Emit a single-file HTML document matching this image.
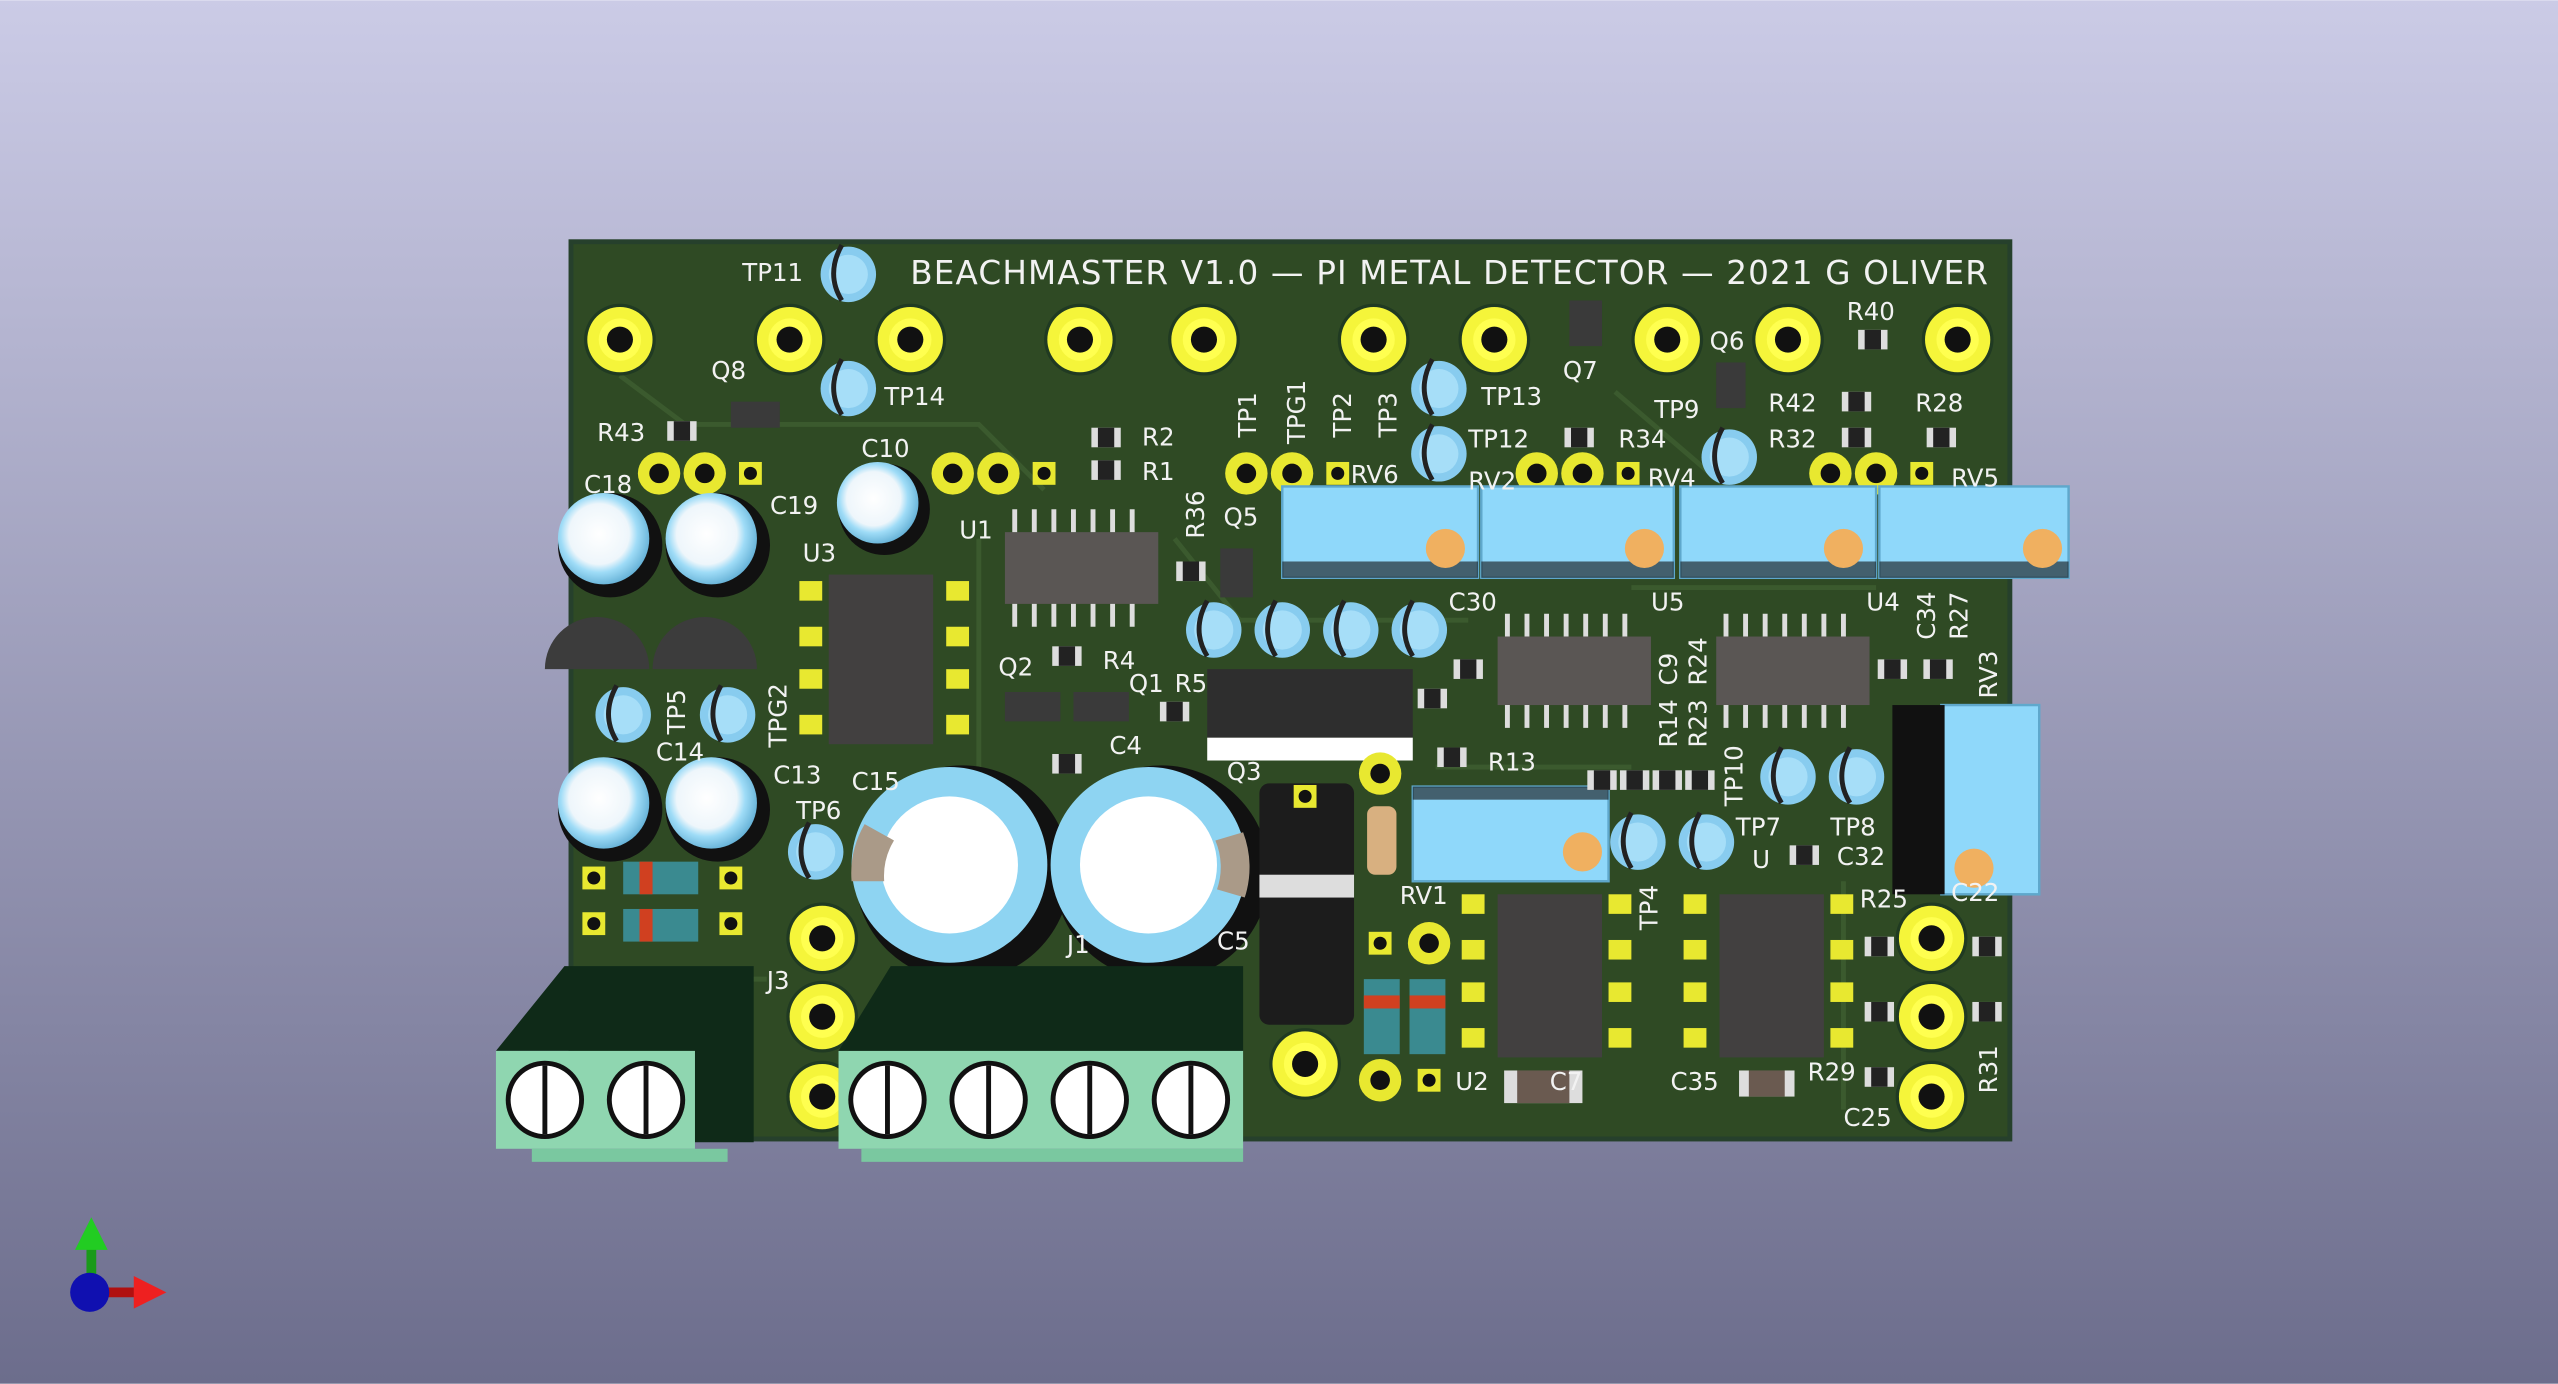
<!DOCTYPE html>
<html><head><meta charset="utf-8"><style>
html,body{margin:0;padding:0;width:2558px;height:1384px;overflow:hidden}
svg{display:block}
text{font-family:"DejaVu Sans","Liberation Sans",sans-serif;fill:#f2f2f2}
</style></head><body>
<svg width="2558" height="1384" viewBox="0 0 1568 848" xmlns="http://www.w3.org/2000/svg">
<defs>
<linearGradient id="bg" x1="0" y1="0" x2="0" y2="1"><stop offset="0" stop-color="#cbcbe6"/><stop offset="1" stop-color="#6c6d8c"/></linearGradient>
<radialGradient id="cap" cx="0.45" cy="0.45" r="0.6"><stop offset="0" stop-color="#ffffff"/><stop offset="0.55" stop-color="#eef6fb"/><stop offset="0.7" stop-color="#9fdcf7"/><stop offset="1" stop-color="#5aa9d0"/></radialGradient>
<g id="pad"><circle r="22" fill="#203a22"/><circle r="20" fill="#f5f53a"/><circle r="13" fill="#ffff50"/><circle r="8" fill="#111"/></g>
<g id="spad"><circle r="13" fill="#e8e830"/><circle r="6" fill="#111"/></g>
<g id="tp"><circle r="17" fill="#88ccef"/><circle r="12" fill="#a6def8"/><path d="M-4,-18 Q-14,0 -4,16" stroke="#222" stroke-width="3" fill="none"/></g>
<g id="res"><rect x="-9" y="-6" width="18" height="12" fill="#ddd"/><rect x="-5" y="-6" width="10" height="12" fill="#222"/></g>
<g id="smallpad"><rect x="-7" y="-7" width="14" height="14" fill="#e8e830"/><circle r="4" fill="#111"/></g>
</defs>
<rect width="1568" height="848" fill="url(#bg)"/>
<!-- board -->
<rect x="350" y="148" width="882" height="550" fill="#2f4a24" stroke="#26402c" stroke-width="3"/>
<g stroke="#3b5a2e" stroke-width="3" fill="none">
<path d="M380,230 L420,260 L600,260 L640,300"/><path d="M600,330 L600,470"/><path d="M720,330 L760,380 L900,380"/><path d="M1000,360 L1150,360"/><path d="M880,470 L1000,470"/><path d="M360,600 L470,600"/><path d="M1130,540 L1130,680"/><path d="M990,240 L1060,300"/>
</g>
<text x="558" y="174" font-size="20" letter-spacing="0.7">BEACHMASTER V1.0 — PI METAL DETECTOR — 2021 G OLIVER</text>
<!-- mounting pads -->
<use href="#pad" x="380" y="208"/><use href="#pad" x="484" y="208"/><use href="#pad" x="558" y="208"/><use href="#pad" x="662" y="208"/><use href="#pad" x="738" y="208"/><use href="#pad" x="842" y="208"/><use href="#pad" x="916" y="208"/><use href="#pad" x="1022" y="208"/><use href="#pad" x="1096" y="208"/><use href="#pad" x="1200" y="208"/>
<use href="#pad" x="504" y="575"/><use href="#pad" x="504" y="623"/><use href="#pad" x="504" y="672"/>
<use href="#pad" x="1184" y="575"/><use href="#pad" x="1184" y="623"/><use href="#pad" x="1184" y="672"/>
<use href="#pad" x="800" y="652"/>
<!-- small pads rows -->
<use href="#spad" x="404" y="290"/><use href="#spad" x="432" y="290"/><use href="#smallpad" x="460" y="290"/>
<use href="#spad" x="584" y="290"/><use href="#spad" x="612" y="290"/><use href="#smallpad" x="640" y="290"/>
<use href="#spad" x="764" y="290"/><use href="#spad" x="792" y="290"/><use href="#smallpad" x="820" y="290"/>
<use href="#spad" x="942" y="290"/><use href="#spad" x="970" y="290"/><use href="#smallpad" x="998" y="290"/>
<use href="#spad" x="1122" y="290"/><use href="#spad" x="1150" y="290"/><use href="#smallpad" x="1178" y="290"/>
<!-- test points -->
<use href="#tp" x="520" y="168"/><use href="#tp" x="520" y="238"/><use href="#tp" x="882" y="238"/><use href="#tp" x="882" y="278"/><use href="#tp" x="1060" y="280"/>
<use href="#tp" x="382" y="438"/><use href="#tp" x="446" y="438"/><use href="#tp" x="500" y="522"/>
<use href="#tp" x="744" y="386"/><use href="#tp" x="786" y="386"/><use href="#tp" x="828" y="386"/><use href="#tp" x="870" y="386"/>
<use href="#tp" x="1096" y="476"/><use href="#tp" x="1138" y="476"/><use href="#tp" x="1004" y="516"/><use href="#tp" x="1046" y="516"/>
<!-- trimmers -->
<g fill="#8fd8fa" stroke="#5fa8cc" stroke-width="1.5">
<rect x="786" y="298" width="120" height="56"/><rect x="908" y="298" width="118" height="56"/><rect x="1030" y="298" width="120" height="56"/><rect x="1152" y="298" width="116" height="56"/>
<rect x="1190" y="432" width="60" height="116"/><rect x="866" y="482" width="120" height="58"/>
</g>
<g fill="#111"><rect x="786" y="344" width="120" height="10" opacity="0.6"/><rect x="908" y="344" width="118" height="10" opacity="0.6"/><rect x="1030" y="344" width="120" height="10" opacity="0.6"/><rect x="1152" y="344" width="116" height="10" opacity="0.6"/><rect x="1160" y="432" width="32" height="116"/><rect x="866" y="482" width="120" height="8" opacity="0.6"/></g>
<g fill="#f0b060"><circle cx="886" cy="336" r="12"/><circle cx="1008" cy="336" r="12"/><circle cx="1130" cy="336" r="12"/><circle cx="1252" cy="336" r="12"/><circle cx="1210" cy="532" r="12"/><circle cx="970" cy="522" r="12"/></g>
<!-- electrolytic caps -->
<g><circle cx="374" cy="334" r="32" fill="#111"/><circle cx="370" cy="330" r="28" fill="url(#cap)"/>
<circle cx="440" cy="334" r="32" fill="#111"/><circle cx="436" cy="330" r="28" fill="url(#cap)"/>
<circle cx="374" cy="496" r="32" fill="#111"/><circle cx="370" cy="492" r="28" fill="url(#cap)"/>
<circle cx="440" cy="496" r="32" fill="#111"/><circle cx="436" cy="492" r="28" fill="url(#cap)"/>
<circle cx="542" cy="312" r="28" fill="#111"/><circle cx="538" cy="308" r="25" fill="url(#cap)"/>
<circle cx="590" cy="535" r="66" fill="#111"/><circle cx="582" cy="530" r="60" fill="#8ed4f2"/><circle cx="582" cy="530" r="42" fill="#fff"/><path d="M522,540 A60,60 0 0 1 530,505 L548,515 A42,42 0 0 0 542,540Z" fill="#aa9a88"/>
<circle cx="712" cy="535" r="66" fill="#111"/><circle cx="704" cy="530" r="60" fill="#8ed4f2"/><circle cx="704" cy="530" r="42" fill="#fff"/><path d="M745,515 A42,42 0 0 1 746,545 L763,550 A60,60 0 0 0 762,510Z" fill="#aa9a88"/>
</g>
<!-- TO-92 transistors -->
<path d="M334,410 A32,32 0 1 1 398,410 Z" fill="#3c3c3c"/><path d="M400,410 A32,32 0 1 1 464,410 Z" fill="#3c3c3c"/>
<!-- ICs -->
<g><rect x="508" y="352" width="64" height="104" fill="#424040"/><rect x="918" y="548" width="64" height="100" fill="#424040"/><rect x="1054" y="548" width="64" height="100" fill="#424040"/>
<rect x="616" y="326" width="94" height="44" fill="#5a5654"/><rect x="918" y="390" width="94" height="42" fill="#5a5654"/><rect x="1052" y="390" width="94" height="42" fill="#5a5654"/></g>
<g fill="#e8e830"><rect x="490" y="356" width="14" height="12"/><rect x="490" y="384" width="14" height="12"/><rect x="490" y="410" width="14" height="12"/><rect x="490" y="438" width="14" height="12"/>
<rect x="580" y="356" width="14" height="12"/><rect x="580" y="384" width="14" height="12"/><rect x="580" y="410" width="14" height="12"/><rect x="580" y="438" width="14" height="12"/>
<rect x="896" y="548" width="14" height="12"/><rect x="896" y="576" width="14" height="12"/><rect x="896" y="602" width="14" height="12"/><rect x="896" y="630" width="14" height="12"/>
<rect x="986" y="548" width="14" height="12"/><rect x="986" y="576" width="14" height="12"/><rect x="986" y="602" width="14" height="12"/><rect x="986" y="630" width="14" height="12"/>
<rect x="1032" y="548" width="14" height="12"/><rect x="1032" y="576" width="14" height="12"/><rect x="1032" y="602" width="14" height="12"/><rect x="1032" y="630" width="14" height="12"/>
<rect x="1122" y="548" width="14" height="12"/><rect x="1122" y="576" width="14" height="12"/><rect x="1122" y="602" width="14" height="12"/><rect x="1122" y="630" width="14" height="12"/></g>
<g stroke="#ddd" stroke-width="3"><path d="M622,312v14M634,312v14M646,312v14M658,312v14M670,312v14M682,312v14M694,312v14M622,370v14M634,370v14M646,370v14M658,370v14M670,370v14M682,370v14M694,370v14"/>
<path d="M924,376v14M936,376v14M948,376v14M960,376v14M972,376v14M984,376v14M996,376v14M924,432v14M936,432v14M948,432v14M960,432v14M972,432v14M984,432v14M996,432v14"/>
<path d="M1058,376v14M1070,376v14M1082,376v14M1094,376v14M1106,376v14M1118,376v14M1130,376v14M1058,432v14M1070,432v14M1082,432v14M1094,432v14M1106,432v14M1118,432v14M1130,432v14"/></g>
<!-- Q3 TO-220 -->
<rect x="740" y="410" width="126" height="42" fill="#2e2e2e"/><rect x="740" y="452" width="126" height="14" fill="#fff"/>
<!-- big diode -->
<rect x="772" y="480" width="58" height="148" rx="6" fill="#1c1c1c"/><rect x="772" y="536" width="58" height="14" fill="#ddd"/>
<use href="#smallpad" x="800" y="488"/>
<!-- small diodes -->
<g><rect x="382" y="528" width="46" height="20" fill="#3a8a90"/><rect x="392" y="528" width="8" height="20" fill="#d04020"/><rect x="382" y="557" width="46" height="20" fill="#3a8a90"/><rect x="392" y="557" width="8" height="20" fill="#d04020"/>
<rect x="836" y="600" width="22" height="46" fill="#3a8a90"/><rect x="836" y="610" width="22" height="8" fill="#d04020"/><rect x="864" y="600" width="22" height="46" fill="#3a8a90"/><rect x="864" y="610" width="22" height="8" fill="#d04020"/>
<rect x="838" y="494" width="18" height="42" rx="5" fill="#d8b080"/></g>
<use href="#smallpad" x="364" y="538"/><use href="#smallpad" x="448" y="538"/><use href="#smallpad" x="364" y="566"/><use href="#smallpad" x="448" y="566"/>
<use href="#spad" x="846" y="474"/><use href="#spad" x="846" y="662"/><use href="#smallpad" x="876" y="662"/><use href="#spad" x="876" y="578"/><use href="#smallpad" x="846" y="578"/>
<!-- SMD resistors -->
<use href="#res" x="678" y="268"/><use href="#res" x="678" y="288"/><use href="#res" x="418" y="264"/><use href="#res" x="968" y="268"/><use href="#res" x="1138" y="246"/><use href="#res" x="1138" y="268"/><use href="#res" x="1190" y="268"/><use href="#res" x="1148" y="208"/>
<use href="#res" x="654" y="402"/><use href="#res" x="720" y="436"/><use href="#res" x="654" y="468"/><use href="#res" x="890" y="464"/><use href="#res" x="1106" y="524"/>
<use href="#res" x="730" y="350"/><use href="#res" x="878" y="428"/><use href="#res" x="900" y="410"/><use href="#res" x="1160" y="410"/><use href="#res" x="1188" y="410"/>
<use href="#res" x="982" y="478"/><use href="#res" x="1002" y="478"/><use href="#res" x="1022" y="478"/><use href="#res" x="1042" y="478"/>
<use href="#res" x="1152" y="580"/><use href="#res" x="1152" y="620"/><use href="#res" x="1152" y="660"/><use href="#res" x="1218" y="580"/><use href="#res" x="1218" y="620"/>
<rect x="922" y="656" width="48" height="20" fill="#ddd"/><rect x="930" y="656" width="32" height="20" fill="#6a5a50"/>
<rect x="1066" y="656" width="34" height="16" fill="#ddd"/><rect x="1072" y="656" width="22" height="16" fill="#6a5a50"/>
<!-- SOT-23 -->
<g fill="#3a3a3a"><rect x="448" y="246" width="30" height="16"/><rect x="748" y="336" width="20" height="30"/><rect x="962" y="184" width="20" height="28"/><rect x="1052" y="222" width="18" height="28"/><rect x="616" y="424" width="34" height="18"/><rect x="658" y="424" width="34" height="18"/></g>
<!-- terminal blocks -->
<g><polygon points="304,644 346,592 462,592 462,700 426,700 426,644" fill="#0f2a18"/><rect x="304" y="644" width="122" height="60" fill="#8fd6b0"/><rect x="326" y="704" width="120" height="8" fill="#7ac8a0"/>
<circle cx="334" cy="674" r="24" fill="#111"/><circle cx="334" cy="674" r="21" fill="#fff"/><circle cx="396" cy="674" r="24" fill="#111"/><circle cx="396" cy="674" r="21" fill="#fff"/>
<polygon points="514,644 546,592 762,592 762,700 514,700" fill="#0f2a18"/><rect x="514" y="644" width="248" height="60" fill="#8fd6b0"/><rect x="528" y="704" width="234" height="8" fill="#7ac8a0"/>
<circle cx="544" cy="674" r="24" fill="#111"/><circle cx="544" cy="674" r="21" fill="#fff"/><circle cx="606" cy="674" r="24" fill="#111"/><circle cx="606" cy="674" r="21" fill="#fff"/><circle cx="668" cy="674" r="24" fill="#111"/><circle cx="668" cy="674" r="21" fill="#fff"/><circle cx="730" cy="674" r="24" fill="#111"/><circle cx="730" cy="674" r="21" fill="#fff"/>
<g stroke="#111" stroke-width="3"><path d="M334,653v42M396,653v42M544,653v42M606,653v42M668,653v42M730,653v42"/></g></g>
<!-- labels -->
<g font-size="15">
<text x="455" y="172">TP11</text><text x="542" y="248">TP14</text><text x="436" y="232">Q8</text><text x="366" y="270">R43</text><text x="358" y="302">C18</text><text x="472" y="315">C19</text><text x="528" y="280">C10</text><text x="492" y="344">U3</text><text x="588" y="330">U1</text>
<text x="700" y="273">R2</text><text x="700" y="294">R1</text><text x="750" y="322">Q5</text><text x="612" y="414">Q2</text><text x="676" y="410">R4</text><text x="692" y="424">Q1</text><text x="720" y="424">R5</text><text x="680" y="462">C4</text><text x="752" y="478">Q3</text>
<text x="402" y="466">C14</text><text x="474" y="480">C13</text><text x="522" y="484">C15</text><text x="488" y="502">TP6</text><text x="470" y="606">J3</text><text x="654" y="584">J1</text><text x="746" y="582">C5</text>
<text x="858" y="554">RV1</text><text x="892" y="668">U2</text><text x="950" y="668">C7</text><text x="1024" y="668">C35</text><text x="1108" y="662">R29</text><text x="1130" y="690">C25</text><text x="1140" y="556">R25</text><text x="1196" y="552">C22</text>
<text x="1064" y="512">TP7</text><text x="1122" y="512">TP8</text><text x="1074" y="532">U</text><text x="1126" y="530">C32</text>
<text x="888" y="374">C30</text><text x="1012" y="374">U5</text><text x="1144" y="374">U4</text><text x="912" y="472">R13</text>
<text x="908" y="248">TP13</text><text x="900" y="274">TP12</text><text x="992" y="274">R34</text><text x="1014" y="256">TP9</text><text x="1084" y="252">R42</text><text x="1084" y="274">R32</text><text x="1174" y="252">R28</text><text x="1132" y="196">R40</text><text x="1048" y="214">Q6</text><text x="958" y="232">Q7</text>
<text x="828" y="296">RV6</text><text x="900" y="300">RV2</text><text x="1010" y="298">RV4</text><text x="1196" y="298">RV5</text>
</g>
<g font-size="15">
<text transform="translate(770,268) rotate(-90)">TP1</text><text transform="translate(800,272) rotate(-90)">TPG1</text><text transform="translate(828,268) rotate(-90)">TP2</text><text transform="translate(856,268) rotate(-90)">TP3</text>
<text transform="translate(738,330) rotate(-90)">R36</text><text transform="translate(420,450) rotate(-90)">TP5</text><text transform="translate(482,458) rotate(-90)">TPG2</text>
<text transform="translate(1028,420) rotate(-90)">C9</text><text transform="translate(1046,420) rotate(-90)">R24</text><text transform="translate(1028,458) rotate(-90)">R14</text><text transform="translate(1046,458) rotate(-90)">R23</text>
<text transform="translate(1068,494) rotate(-90)">TP10</text><text transform="translate(1016,570) rotate(-90)">TP4</text>
<text transform="translate(1186,392) rotate(-90)">C34</text><text transform="translate(1206,392) rotate(-90)">R27</text><text transform="translate(1224,428) rotate(-90)">RV3</text><text transform="translate(1224,670) rotate(-90)">R31</text>
</g>
<!-- axis gizmo -->
<line x1="56" y1="790" x2="56" y2="762" stroke="#1a9a1a" stroke-width="6"/><polygon points="46,766 56,746 66,766" fill="#22cc22"/>
<line x1="56" y1="792" x2="84" y2="792" stroke="#b01010" stroke-width="6"/><polygon points="82,782 102,792 82,802" fill="#ee2020"/>
<circle cx="55" cy="792" r="12" fill="#1010b0"/>
</svg>
</body></html>
